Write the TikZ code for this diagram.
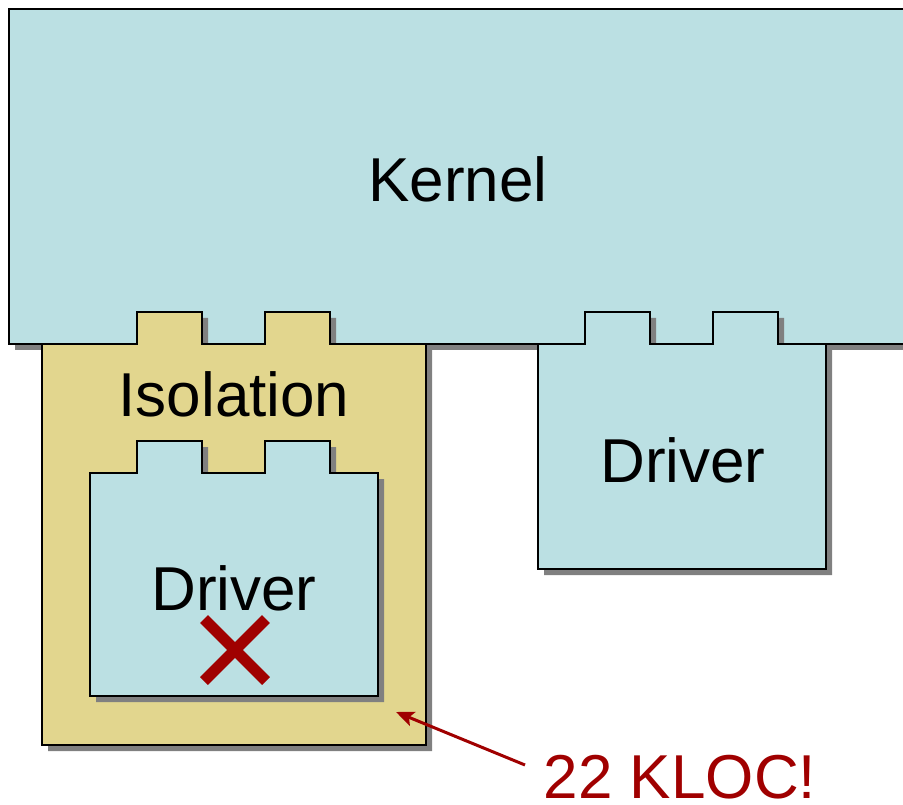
\documentclass[tikz,border=0pt]{standalone}
\usepackage{fontspec}
\setmainfont{Liberation Sans}
\usepackage{xcolor}
\usepackage{tikz}
\usetikzlibrary{arrows.meta}

\definecolor{drvblue}{RGB}{187,224,227}
\definecolor{isotan}{RGB}{226,214,142}
\definecolor{klocred}{RGB}{160,0,0}

\tikzset{
	shapeline/.style={draw=black, line width=2.5pt, line join=miter},
	shadeoff/.style={fill=black!50},
	bigtext/.style={font=\fontsize{62}{70}\selectfont, inner sep=0pt},
	klocarrow/.style={draw=klocred, line width=3pt, -{Stealth[length=18pt, width=15pt, inset=4pt]}},
	crossline/.style={draw=klocred, line width=11pt, line cap=butt},
}

% outline of a block with two tabs on top
\newcommand{\tabpath}[6]{(#1,#4) -- (#1,#2) -- (#5,#2) -- (#5,#2-32) -- (#5+65,#2-32) -- (#5+65,#2)
	-- (#6,#2) -- (#6,#2-32) -- (#6+65,#2-32) -- (#6+65,#2) -- (#3,#2) -- (#3,#4) -- cycle}
% block with its drop shadow
\newcommand{\tabblock}[7]{%
	\fill[shadeoff, shift={(6,6)}] \tabpath{#1}{#2}{#3}{#4}{#5}{#6};
	\draw[shapeline, fill=#7] \tabpath{#1}{#2}{#3}{#4}{#5}{#6};
}

\begin{document}
\begin{tikzpicture}[x=1pt, y=-1pt]

		\useasboundingbox (0,0) rectangle (903,805);
		\clip (0,0) rectangle (903,805);

		% Kernel (runs off the right edge)
		\fill[shadeoff] (15,15) rectangle (930,350);
		\draw[shapeline, fill=drvblue] (9,9) rectangle (925,344);

		% Isolation wrapper and the drivers
		\tabblock{42}{344}{426}{745}{137}{265}{isotan}
		\tabblock{538}{344}{826}{569}{585}{713}{drvblue}
		\tabblock{90}{473}{378}{696}{137}{265}{drvblue}

		% Labels
		\node[bigtext] (kernel) at (458,179) {Kernel};
		\node[bigtext] (iso) at (234,394) {Isolation};
		\node[bigtext] (drvright) at (683,460) {Driver};
		\node[bigtext] (drvinner) at (234,588) {Driver};

		% Failed driver mark
		\coordinate (xa) at (204,619);
		\coordinate (xb) at (266,681);
		\coordinate (xc) at (204,681);
		\coordinate (xd) at (266,619);
		\draw[crossline] (xa) -- (xb);
		\draw[crossline] (xc) -- (xd);

		% Annotation
		\node[bigtext, text=klocred, text depth=0pt, anchor=base] (kloc) at (680,798) {22 KLOC!};
		\coordinate (tail) at (525,765);
		\coordinate (tip) at (396,712);
		\draw[klocarrow] (tail) -- (tip);

	\end{tikzpicture}
\end{document}
